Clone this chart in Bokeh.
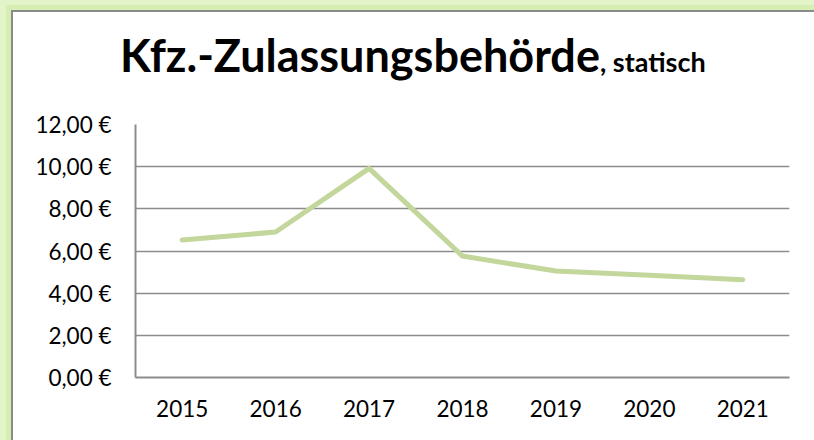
from bokeh.plotting import figure
from bokeh.models import Range1d, CustomJSTickFormatter, Div
from bokeh.layouts import column
from bokeh.embed import file_html
from bokeh.resources import INLINE

years = ["2015", "2016", "2017", "2018", "2019", "2020", "2021"]
values = [6.52, 6.90, 9.92, 5.76, 5.05, 4.85, 4.64]
y_ticks = [0, 2, 4, 6, 8, 10, 12]
title_main = "Kfz.-Zulassungsbehörde"
title_sub = ", statisch"

FONT = "Lato"
GRID = "#8c8c8c"
W, H = 814, 440
HEAD = 90
LEFT, RIGHT, TOP, BOTTOM = 135, 25, 124 - HEAD, 63

head = Div(
    text=(
        '<div style="padding:28px 0 0 120px; white-space:nowrap; font-family:Lato; '
        'font-weight:bold; line-height:1.2; color:black">'
        f'<span style="font-size:45px">{title_main}</span>'
        f'<span style="font-size:27px">{title_sub}</span></div>'
    ),
    width=W, height=HEAD, margin=0,
)

p = figure(
    width=W, height=H - HEAD,
    x_range=years, y_range=Range1d(0, 12),
    output_backend="svg", toolbar_location=None,
    min_border_left=LEFT, min_border_right=RIGHT,
    min_border_top=TOP, min_border_bottom=BOTTOM,
)
p.x_range.range_padding = 0
p.title = None
p.outline_line_color = None
p.border_fill_alpha = 0
p.background_fill_color = "white"

p.line(years, values, line_color="#c3d69b", line_width=5,
       line_cap="round", line_join="round")

p.yaxis.ticker = y_ticks
p.yaxis.formatter = CustomJSTickFormatter(code="return tick.toFixed(2).replace('.', ',') + ' €';")
for ax in (p.xaxis, p.yaxis):
    ax.major_tick_line_color = None
    ax.minor_tick_line_color = None
    ax.major_tick_out = 0
    ax.major_tick_in = 0
    ax.major_label_text_font = FONT
    ax.major_label_text_font_size = "22.5px"
    ax.major_label_text_color = "black"
    ax.axis_line_color = GRID
    ax.axis_line_width = 2
p.yaxis.major_label_standoff = 24
p.xaxis.major_label_standoff = 22

p.xgrid.grid_line_color = None
p.ygrid.grid_line_color = GRID
p.ygrid.grid_line_width = 1.6

layout = column(head, p, spacing=0)
layout.styles = {
    "background-color": "white",
    "box-shadow": "inset 6px 5px 0 0 #e2f4c8, inset 11px 10px 0 0 #d6eeb2, inset 13px 12px 0 0 #8a8a8a",
}

open("out.html", "w").write(file_html(layout, INLINE))
